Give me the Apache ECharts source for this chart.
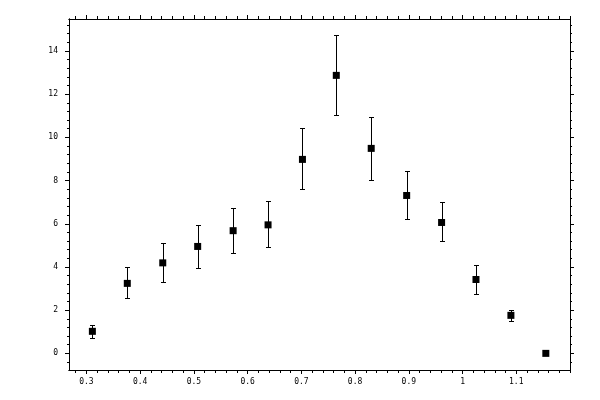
<!DOCTYPE html>
<html>
<head>
<meta charset="utf-8">
<script src="https://cdn.jsdelivr.net/npm/echarts@6/dist/echarts.min.js"></script>
<style>html,body{margin:0;padding:0;background:#fff}#c{width:600px;height:400px}</style>
</head>
<body>
<div id="c"></div>
<script>
// Data
const xValues = [0.311, 0.376, 0.442, 0.507, 0.573, 0.638, 0.702, 0.765, 0.830, 0.896, 0.961, 1.025, 1.090, 1.155];
const yValues = [1.02, 3.24, 4.19, 4.95, 5.68, 5.95, 8.98, 12.87, 9.49, 7.31, 6.06, 3.42, 1.76, 0.0];
const yLow    = [0.69, 2.55, 3.29, 3.94, 4.63, 4.91, 7.61, 11.02, 8.01, 6.20, 5.20, 2.73, 1.48, 0.0];
const yHigh   = [1.30, 3.98, 5.09, 5.93, 6.71, 7.04, 10.42, 14.72, 10.95, 8.43, 6.99, 4.07, 1.99, 0.0];
const xTickLabels = [0.3, 0.4, 0.5, 0.6, 0.7, 0.8, 0.9, 1, 1.1];
const yTickLabels = [0, 2, 4, 6, 8, 10, 12, 14];

const X_MIN = 0.2675, X_MAX = 1.2, Y_MIN = -0.77, Y_MAX = 15.48;
const xMinor = []; for (let k = 0; k <= 46; k++) { const v = Math.round((0.28 + k * 0.02) * 100) / 100; if (v <= X_MAX) xMinor.push(v); }
const yMinor = []; for (let k = 0; k <= 40; k++) { const v = Math.round((-0.4 + k * 0.4) * 10) / 10; if (v <= Y_MAX) yMinor.push(v); }

const font = { fontFamily: 'DejaVu Sans Mono', fontSize: 8, color: '#000' };
const lineStyle = { color: '#000', width: 1 };

function xAx(pos, major, show) {
  return {
    type: 'value', position: pos, min: X_MIN, max: X_MAX,
    axisLine: { show: true, onZero: false, lineStyle },
    axisTick: { show: true, inside: false, length: major ? 4 : 3, lineStyle, customValues: major ? xTickLabels : xMinor },
    axisLabel: show ? Object.assign({ show: true, margin: 8, customValues: xTickLabels, formatter: v => String(v) }, font) : { show: false },
    splitLine: { show: false }
  };
}
function yAx(pos, major, show) {
  return {
    type: 'value', position: pos, min: Y_MIN, max: Y_MAX,
    axisLine: { show: true, onZero: false, lineStyle },
    axisTick: { show: true, inside: false, length: major ? 4 : 2, lineStyle, customValues: major ? yTickLabels : yMinor },
    axisLabel: show ? Object.assign({ show: true, margin: 11, customValues: yTickLabels, formatter: v => String(v) }, font) : { show: false },
    splitLine: { show: false }
  };
}

const chart = echarts.init(document.getElementById('c'), null, { renderer: 'canvas' });
chart.setOption({
  animation: false,
  backgroundColor: '#fff',
  grid: { left: 69, right: 30, top: 19, bottom: 30 },
  xAxis: [xAx('bottom', true, true), xAx('bottom', false, false), xAx('top', true, false), xAx('top', false, false)],
  yAxis: [yAx('left', true, true), yAx('left', false, false), yAx('right', true, false), yAx('right', false, false)],
  series: [
    {
      type: 'custom',
      xAxisIndex: 0, yAxisIndex: 0,
      data: xValues.map((x, i) => [x, yLow[i], yHigh[i]]),
      renderItem: function (params, api) {
        const x = api.value(0), lo = api.value(1), hi = api.value(2);
        if (hi - lo <= 0) return null;
        const pt = api.coord([x, hi]), pb = api.coord([x, lo]);
        const cx = Math.round(pt[0]) + 0.5;
        const yt = Math.round(pt[1]) + 0.5, yb = Math.round(pb[1]) + 0.5;
        const w = 2.5;
        const st = { stroke: '#000', lineWidth: 1 };
        return {
          type: 'group',
          children: [
            { type: 'line', shape: { x1: cx, y1: yt, x2: cx, y2: yb }, style: st },
            { type: 'line', shape: { x1: cx - w, y1: yt, x2: cx + w, y2: yt }, style: st },
            { type: 'line', shape: { x1: cx - w, y1: yb, x2: cx + w, y2: yb }, style: st }
          ]
        };
      },
      z: 2
    },
    {
      type: 'scatter',
      xAxisIndex: 0, yAxisIndex: 0,
      symbol: 'rect', symbolSize: 7,
      itemStyle: { color: '#000', opacity: 1 },
      data: xValues.map((x, i) => [x, yValues[i]]),
      z: 3
    }
  ]
});
</script>
</body>
</html>
